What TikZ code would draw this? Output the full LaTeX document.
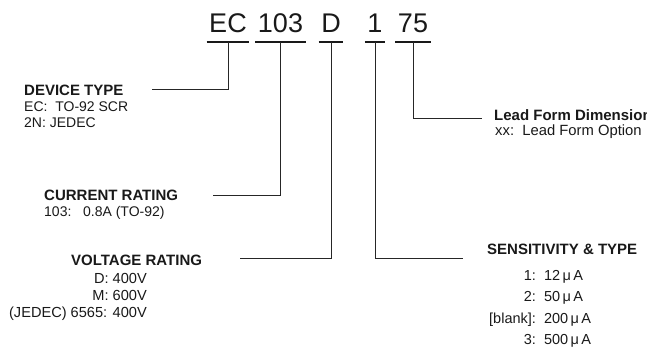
\documentclass[tikz,border=0pt]{standalone}
\usepackage{fontspec}
\setmainfont{Liberation Sans}
\usetikzlibrary{positioning}

\tikzset{
  code/.style={font=\fontsize{27}{30}\selectfont, text=black!90, inner xsep=2.5pt, inner ysep=0pt, anchor=base},
  head/.style={font=\fontsize{15}{17}\selectfont\bfseries, text=black!90, inner sep=0pt, anchor=base west},
  body/.style={font=\fontsize{14}{16}\selectfont, text=black!90, inner sep=0pt},
  uline/.style={line width=1.6pt, black!90},
  leader/.style={line width=0.9pt, black!85},
}

\begin{document}
\begin{tikzpicture}[x=1pt, y=-1pt]
    \useasboundingbox (0,0) rectangle (647,348);

    % Part number
    \node[code] (ec)   at (228,32)   {EC};
    \node[code] (cur)  at (280.5,32) {103};
    \node[code] (volt) at (331,32)   {D};
    \node[code] (sens) at (375,32)   {1};
    \node[code] (lead) at (413,32)   {75};
    \foreach \n in {ec,cur,volt,sens,lead}
        \draw[uline] ([yshift=-10pt]\n.base west) -- ([yshift=-10pt]\n.base east);

    % Device type
    \node[head] (devhead) at (24,95) {DEVICE TYPE};
    \node[body, align=left, anchor=base west] (devlist) at (24,127) {EC:~~TO-92 SCR\\2N: JEDEC};
    \coordinate (devend) at (152,89);
    \draw[leader] ([yshift=-10pt]ec.base) |- (devend);

    % Current rating
    \node[head] (curhead) at (44,200) {CURRENT RATING};
    \node[body, anchor=base west] (curlist) at (44,216) {103:~~~0.8A (TO-92)};
    \coordinate (curend) at (213,195);
    \draw[leader] ([yshift=-10pt]cur.base) |- (curend);

    % Voltage rating
    \node[head] (volthead) at (71,265) {VOLTAGE RATING};
    \node[body, align=right, anchor=base east, font=\fontsize{14.6}{17}\selectfont] (voltlist) at (147,317)
        {D: 400V\\M: 600V\\(JEDEC) 6565: 400V};
    \coordinate (voltend) at (240,258);
    \draw[leader] ([yshift=-10pt]volt.base) |- (voltend);

    % Sensitivity & type
    \node[head] (senshead) at (487,254) {SENSITIVITY \& TYPE};
    \node[body, anchor=base west, font=\fontsize{14.5}{21.5}\selectfont] (senslist) at (489,280)
        {\begin{tabular}[t]{@{}r@{~~}l@{}}
            1: & 12\,μ\,A\\
            2: & 50\,μ\,A\\
            {[blank]:} & 200\,μ\,A\\
            3: & 500\,μ\,A
        \end{tabular}};
    \coordinate (sensend) at (463,258);
    \draw[leader] ([yshift=-10pt]sens.base) |- (sensend);

    % Lead form
    \node[head] (leadhead) at (494,120) {Lead Form Dimension};
    \node[body, anchor=base west, font=\fontsize{14.8}{16}\selectfont] (leadlist) at (495,135) {xx:~~Lead Form Option};
    \coordinate (leadend) at (482,118);
    \draw[leader] ([yshift=-10pt]lead.base) |- (leadend);
\end{tikzpicture}
\end{document}
